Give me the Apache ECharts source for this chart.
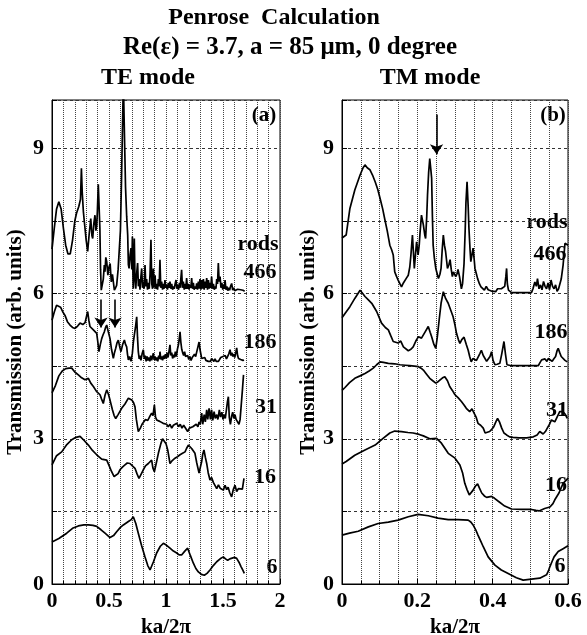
<!DOCTYPE html>
<html>
<head>
<meta charset="utf-8">
<script src="https://cdn.jsdelivr.net/npm/echarts@6/dist/echarts.min.js"></script>
<style>
  html, body { margin: 0; padding: 0; background: #fff; }
  #chart { width: 587px; height: 635px; }
</style>
</head>
<body>
<div id="chart"></div>
<script>
// TE mode curves, [ka/2pi, transmission]
var te466 = [[0,6.92],[0.02,7.35],[0.04,7.75],[0.06,7.9],[0.08,7.75],[0.1,7.35],[0.12,7.0],[0.14,6.82],[0.16,6.82],[0.18,7.1],[0.2,7.5],[0.215,7.66],[0.235,7.8],[0.25,7.95],[0.258,8.59],[0.265,8.1],[0.275,7.7],[0.284,7.48],[0.3,7.1],[0.313,6.87],[0.325,7.2],[0.34,7.55],[0.35,7.2],[0.357,7.14],[0.367,7.45],[0.377,7.62],[0.385,7.3],[0.392,7.4],[0.398,7.7],[0.406,8.26],[0.413,7.8],[0.42,7.35],[0.426,6.5],[0.432,6.07],[0.44,6.04],[0.45,6.3],[0.459,6.59],[0.465,6.45],[0.472,6.75],[0.48,6.66],[0.49,6.38],[0.5,6.55],[0.51,6.62],[0.52,6.24],[0.53,6.4],[0.547,6.07],[0.558,6.12],[0.567,6.17],[0.58,6.5],[0.59,6.9],[0.6,7.3],[0.61,8.38],[0.618,9.4],[0.626,10.4],[0.632,10.4],[0.638,9.0],[0.645,8.2],[0.655,7.6],[0.664,7.21],[0.67,6.6],[0.676,6.52],[0.685,6.8],[0.693,6.94],[0.7,6.5],[0.705,7.18],[0.71,6.4],[0.713,6.1],[0.722,7.14],[0.728,6.3],[0.735,6.1],[0.742,6.4],[0.751,6.63],[0.758,6.15],[0.765,6.3],[0.772,6.08],[0.78,6.35],[0.787,6.52],[0.794,6.12],[0.8,6.25],[0.808,6.1],[0.816,6.59],[0.823,6.15],[0.83,6.3],[0.838,6.08],[0.846,6.22],[0.853,6.1],[0.86,6.4],[0.868,7.11],[0.875,6.2],[0.882,6.1],[0.889,6.52],[0.896,6.12],[0.904,6.38],[0.911,6.1],[0.918,6.2],[0.926,6.08],[0.933,6.3],[0.94,6.15],[0.947,6.7],[0.954,6.12],[0.962,6.25],[0.97,6.08],[0.977,6.2],[0.984,6.1],[0.991,6.28],[0.998,6.12],[1.006,6.18],[1.013,6.08],[1.02,6.22],[1.028,6.12],[1.035,6.25],[1.042,6.1],[1.05,6.2],[1.058,6.08],[1.065,6.15],[1.072,6.1],[1.08,6.2],[1.088,6.28],[1.095,6.1],[1.102,6.18],[1.11,6.08],[1.118,6.22],[1.125,6.12],[1.13,6.3],[1.137,6.49],[1.144,6.12],[1.152,6.25],[1.16,6.08],[1.167,6.2],[1.174,6.1],[1.181,6.32],[1.188,6.1],[1.196,6.2],[1.203,6.08],[1.21,6.18],[1.218,6.12],[1.225,6.32],[1.232,6.1],[1.24,6.22],[1.247,6.08],[1.254,6.15],[1.262,6.1],[1.269,6.21],[1.276,6.08],[1.284,6.25],[1.291,6.1],[1.298,6.3],[1.306,6.08],[1.313,6.28],[1.32,6.1],[1.328,6.3],[1.335,6.08],[1.342,6.25],[1.35,6.12],[1.357,6.32],[1.364,6.08],[1.372,6.28],[1.38,6.1],[1.386,6.22],[1.393,6.12],[1.4,6.35],[1.408,6.1],[1.416,6.2],[1.424,6.08],[1.43,6.15],[1.438,6.1],[1.445,6.3],[1.452,6.2],[1.459,6.63],[1.466,6.25],[1.474,6.35],[1.482,6.12],[1.49,6.22],[1.498,6.08],[1.505,6.18],[1.512,6.1],[1.518,6.28],[1.526,6.08],[1.534,6.15],[1.542,6.06],[1.55,6.12],[1.558,6.07],[1.566,6.15],[1.576,6.21],[1.585,6.07],[1.594,6.12],[1.603,6.06],[1.612,6.1],[1.62,6.06],[1.628,6.09],[1.635,6.12],[1.645,6.05],[1.655,6.08],[1.665,6.05],[1.675,6.07],[1.69,6.05]]
var te186 = [[0,5.45],[0.02,5.62],[0.04,5.76],[0.056,5.79],[0.075,5.72],[0.095,5.62],[0.114,5.55],[0.135,5.42],[0.158,5.35],[0.18,5.3],[0.202,5.28],[0.225,5.33],[0.246,5.39],[0.27,5.36],[0.29,5.4],[0.3,5.5],[0.313,5.63],[0.323,5.45],[0.333,5.32],[0.348,5.28],[0.363,5.25],[0.378,5.22],[0.392,5.18],[0.402,5.0],[0.412,4.8],[0.424,4.95],[0.436,5.07],[0.448,5.15],[0.459,5.21],[0.47,5.3],[0.48,5.35],[0.495,5.2],[0.509,5.07],[0.522,4.85],[0.538,4.66],[0.548,4.78],[0.559,4.87],[0.57,4.98],[0.582,5.04],[0.594,4.9],[0.605,4.8],[0.62,4.95],[0.635,5.04],[0.645,4.95],[0.655,4.9],[0.662,4.75],[0.67,4.63],[0.68,4.7],[0.693,4.6],[0.705,4.77],[0.714,5.0],[0.722,5.14],[0.732,5.3],[0.743,5.52],[0.75,5.1],[0.757,4.8],[0.765,4.65],[0.772,4.72],[0.78,4.62],[0.79,4.75],[0.801,4.84],[0.81,4.65],[0.818,4.72],[0.826,4.6],[0.834,4.7],[0.842,4.62],[0.85,4.68],[0.858,4.6],[0.866,4.72],[0.874,4.62],[0.882,4.7],[0.889,4.77],[0.896,4.63],[0.904,4.7],[0.912,4.62],[0.92,4.68],[0.928,4.6],[0.936,4.72],[0.944,4.65],[0.947,4.8],[0.955,4.64],[0.963,4.7],[0.97,4.62],[0.978,4.72],[0.986,4.65],[0.995,4.75],[1.003,4.66],[1.01,4.78],[1.018,4.68],[1.026,4.8],[1.035,4.94],[1.042,4.72],[1.05,4.78],[1.058,4.66],[1.066,4.74],[1.074,4.68],[1.082,4.8],[1.09,4.7],[1.1,4.85],[1.11,4.95],[1.118,5.1],[1.123,5.21],[1.13,5.0],[1.138,4.85],[1.146,4.78],[1.155,4.72],[1.163,4.8],[1.172,4.7],[1.181,4.66],[1.19,4.72],[1.2,4.64],[1.21,4.7],[1.22,4.62],[1.23,4.68],[1.24,4.66],[1.25,4.75],[1.26,4.7],[1.27,4.8],[1.28,4.9],[1.29,5.0],[1.298,4.85],[1.306,4.75],[1.313,4.66],[1.322,4.7],[1.33,4.64],[1.34,4.68],[1.35,4.62],[1.36,4.6],[1.371,4.6],[1.38,4.64],[1.39,4.6],[1.4,4.66],[1.41,4.62],[1.42,4.6],[1.43,4.65],[1.44,4.6],[1.45,4.63],[1.46,4.6],[1.47,4.62],[1.48,4.68],[1.49,4.64],[1.5,4.7],[1.51,4.66],[1.52,4.72],[1.53,4.65],[1.54,4.7],[1.55,4.75],[1.562,4.84],[1.57,4.72],[1.578,4.78],[1.586,4.7],[1.595,4.75],[1.603,4.68],[1.612,4.78],[1.62,4.88],[1.628,4.72],[1.636,4.66],[1.645,4.7],[1.655,4.64],[1.665,4.68],[1.675,4.62],[1.684,4.63]]
var te31 = [[0,3.95],[0.03,4.1],[0.06,4.3],[0.09,4.4],[0.12,4.45],[0.15,4.46],[0.173,4.46],[0.2,4.38],[0.231,4.32],[0.26,4.26],[0.289,4.22],[0.305,4.26],[0.319,4.25],[0.34,4.15],[0.363,4.08],[0.39,3.98],[0.421,3.91],[0.435,3.82],[0.45,3.73],[0.465,3.9],[0.48,4.01],[0.495,3.92],[0.509,3.8],[0.53,3.6],[0.545,3.48],[0.559,3.42],[0.58,3.5],[0.611,3.63],[0.64,3.72],[0.67,3.84],[0.7,3.8],[0.715,3.75],[0.728,3.66],[0.74,3.4],[0.757,3.15],[0.775,3.22],[0.79,3.3],[0.801,3.32],[0.82,3.4],[0.84,3.38],[0.855,3.45],[0.874,3.53],[0.886,3.48],[0.898,3.7],[0.908,3.45],[0.918,3.39],[0.93,3.42],[0.945,3.36],[0.96,3.39],[0.975,3.32],[0.99,3.36],[1.005,3.3],[1.02,3.25],[1.035,3.3],[1.05,3.22],[1.065,3.28],[1.08,3.25],[1.095,3.32],[1.11,3.25],[1.125,3.3],[1.14,3.22],[1.155,3.28],[1.17,3.25],[1.19,3.15],[1.205,3.22],[1.22,3.2],[1.235,3.25],[1.25,3.22],[1.265,3.3],[1.28,3.25],[1.29,3.35],[1.3,3.3],[1.313,3.53],[1.322,3.3],[1.335,3.5],[1.345,3.35],[1.357,3.6],[1.366,3.4],[1.378,3.63],[1.39,3.4],[1.4,3.6],[1.41,3.38],[1.422,3.56],[1.432,3.42],[1.445,3.5],[1.455,3.4],[1.468,3.6],[1.478,3.45],[1.49,3.55],[1.5,3.4],[1.51,3.5],[1.52,3.42],[1.53,3.6],[1.538,3.75],[1.547,3.87],[1.555,3.45],[1.565,3.3],[1.575,3.46],[1.585,3.55],[1.595,3.42],[1.605,3.5],[1.615,3.4],[1.625,3.4],[1.64,3.3],[1.65,3.4],[1.66,3.7],[1.67,4.0],[1.68,4.32]]
var te16 = [[0,2.46],[0.04,2.65],[0.085,2.73],[0.13,2.88],[0.173,2.98],[0.21,3.03],[0.246,3.05],[0.28,2.97],[0.319,2.87],[0.355,2.76],[0.392,2.67],[0.436,2.58],[0.48,2.56],[0.5,2.45],[0.523,2.32],[0.545,2.22],[0.561,2.18],[0.58,2.28],[0.596,2.36],[0.62,2.42],[0.64,2.46],[0.66,2.5],[0.684,2.49],[0.705,2.44],[0.728,2.39],[0.745,2.28],[0.763,2.18],[0.78,2.26],[0.801,2.36],[0.82,2.44],[0.845,2.49],[0.874,2.56],[0.885,2.4],[0.898,2.32],[0.915,2.5],[0.933,2.7],[0.955,2.9],[0.97,3.0],[0.983,3.04],[1.0,2.9],[1.015,2.77],[1.035,2.49],[1.055,2.55],[1.079,2.6],[1.1,2.63],[1.123,2.67],[1.145,2.7],[1.167,2.73],[1.18,2.8],[1.196,2.87],[1.21,2.83],[1.225,2.8],[1.24,2.76],[1.254,2.7],[1.27,2.5],[1.29,2.29],[1.3,2.4],[1.313,2.53],[1.322,2.68],[1.333,2.77],[1.345,2.62],[1.357,2.49],[1.37,2.3],[1.386,2.15],[1.4,2.2],[1.415,2.1],[1.43,2.08],[1.445,1.97],[1.46,2.05],[1.475,1.98],[1.49,2.02],[1.503,1.94],[1.518,2.04],[1.532,1.95],[1.545,2.0],[1.56,1.88],[1.576,1.8],[1.59,1.95],[1.605,2.04],[1.62,1.91],[1.635,1.97],[1.65,2.01],[1.67,1.96],[1.684,2.18]]
var te6 = [[0,0.87],[0.06,0.94],[0.129,1.05],[0.18,1.15],[0.231,1.2],[0.28,1.22],[0.319,1.22],[0.36,1.21],[0.392,1.19],[0.43,1.12],[0.465,1.05],[0.509,0.96],[0.54,1.0],[0.567,1.08],[0.6,1.17],[0.626,1.22],[0.67,1.29],[0.695,1.33],[0.713,1.39],[0.735,1.25],[0.757,1.05],[0.785,0.8],[0.816,0.56],[0.84,0.38],[0.86,0.29],[0.89,0.46],[0.918,0.64],[0.95,0.78],[0.977,0.84],[1.005,0.8],[1.035,0.74],[1.065,0.68],[1.094,0.64],[1.115,0.6],[1.137,0.6],[1.165,0.68],[1.19,0.74],[1.215,0.58],[1.24,0.43],[1.262,0.32],[1.284,0.25],[1.31,0.2],[1.336,0.18],[1.36,0.22],[1.386,0.29],[1.415,0.38],[1.445,0.46],[1.475,0.52],[1.503,0.56],[1.522,0.52],[1.541,0.49],[1.56,0.52],[1.576,0.53],[1.6,0.55],[1.62,0.53],[1.64,0.45],[1.658,0.36],[1.675,0.28],[1.687,0.22]]

// TM mode curves
var tm466 = [[0,7.15],[0.011,7.21],[0.021,7.76],[0.034,8.14],[0.048,8.45],[0.056,8.6],[0.061,8.66],[0.067,8.6],[0.074,8.56],[0.081,8.45],[0.088,8.31],[0.095,8.15],[0.101,7.97],[0.108,7.75],[0.114,7.52],[0.12,7.3],[0.127,7.0],[0.132,6.9],[0.136,6.8],[0.14,6.45],[0.145,6.35],[0.149,6.28],[0.154,6.2],[0.158,6.14],[0.163,6.22],[0.167,6.24],[0.171,6.32],[0.176,6.38],[0.18,6.55],[0.183,6.8],[0.187,7.21],[0.19,6.8],[0.192,6.52],[0.195,6.8],[0.198,7.07],[0.202,6.8],[0.205,7.0],[0.207,7.24],[0.211,7.62],[0.216,7.42],[0.22,7.2],[0.222,7.14],[0.225,7.6],[0.227,8.03],[0.23,8.5],[0.233,8.79],[0.236,8.55],[0.238,8.38],[0.24,7.6],[0.242,7.0],[0.245,6.75],[0.249,6.52],[0.253,6.4],[0.256,6.31],[0.26,6.4],[0.263,6.52],[0.266,6.9],[0.269,7.21],[0.272,7.0],[0.275,6.87],[0.28,6.52],[0.284,6.6],[0.287,6.7],[0.29,6.5],[0.293,6.35],[0.296,6.45],[0.298,6.49],[0.302,6.35],[0.305,6.4],[0.308,6.5],[0.312,6.35],[0.317,6.1],[0.32,6.2],[0.324,6.62],[0.327,7.3],[0.329,7.87],[0.332,8.31],[0.335,7.8],[0.337,7.35],[0.34,6.9],[0.342,6.66],[0.345,6.8],[0.348,6.94],[0.351,6.7],[0.353,6.52],[0.357,6.4],[0.36,6.31],[0.365,6.2],[0.369,6.14],[0.373,6.1],[0.378,6.07],[0.383,6.15],[0.388,6.08],[0.393,6.12],[0.398,6.05],[0.403,6.08],[0.408,6.04],[0.413,6.1],[0.418,6.06],[0.423,6.1],[0.428,6.08],[0.432,6.15],[0.435,6.35],[0.437,6.52],[0.439,6.2],[0.442,6.07],[0.446,6.04],[0.45,6.02],[0.503,6.02],[0.507,6.1],[0.512,6.24],[0.516,6.15],[0.519,6.31],[0.523,6.1],[0.527,6.18],[0.531,6.08],[0.535,6.25],[0.539,6.15],[0.543,6.1],[0.547,6.22],[0.551,6.08],[0.555,6.28],[0.559,6.15],[0.563,6.1],[0.567,6.18],[0.571,6.05],[0.575,6.1],[0.578,6.12],[0.582,6.3],[0.587,6.59],[0.592,7.04],[0.596,7.07],[0.6,7.0]]
var tm186 = [[0,5.5],[0.008,5.59],[0.021,5.73],[0.034,5.9],[0.048,6.07],[0.055,6.0],[0.061,5.94],[0.07,5.87],[0.079,5.8],[0.092,5.63],[0.105,5.39],[0.115,5.3],[0.123,5.25],[0.13,5.12],[0.136,5.01],[0.149,4.98],[0.156,5.02],[0.163,4.9],[0.176,4.82],[0.183,4.85],[0.189,4.9],[0.196,5.02],[0.203,5.11],[0.211,5.08],[0.22,5.2],[0.229,5.32],[0.234,5.2],[0.238,5.11],[0.244,4.95],[0.249,4.87],[0.253,5.1],[0.258,5.46],[0.263,5.8],[0.269,6.04],[0.275,5.9],[0.282,5.8],[0.289,5.65],[0.295,5.52],[0.3,5.35],[0.304,5.18],[0.309,5.05],[0.313,4.97],[0.318,5.05],[0.324,5.1],[0.33,4.95],[0.335,4.83],[0.339,4.7],[0.343,4.59],[0.348,4.66],[0.352,4.7],[0.357,4.62],[0.361,4.66],[0.366,4.76],[0.37,4.83],[0.375,4.72],[0.379,4.7],[0.384,4.6],[0.388,4.56],[0.393,4.7],[0.397,4.8],[0.401,4.62],[0.406,4.53],[0.412,4.54],[0.419,4.56],[0.424,4.75],[0.43,5.01],[0.434,4.75],[0.438,4.53],[0.45,4.51],[0.521,4.51],[0.526,4.58],[0.53,4.63],[0.535,4.6],[0.539,4.65],[0.544,4.6],[0.548,4.66],[0.553,4.62],[0.558,4.6],[0.562,4.65],[0.567,4.7],[0.571,4.82],[0.574,4.87],[0.578,4.78],[0.582,4.7],[0.587,4.66],[0.592,4.62],[0.598,4.59]]
var tm31 = [[0,4.0],[0.008,4.06],[0.02,4.16],[0.034,4.25],[0.048,4.3],[0.061,4.35],[0.072,4.4],[0.083,4.46],[0.092,4.53],[0.101,4.59],[0.11,4.58],[0.123,4.56],[0.14,4.55],[0.154,4.53],[0.168,4.52],[0.18,4.51],[0.192,4.5],[0.203,4.49],[0.21,4.46],[0.216,4.42],[0.224,4.34],[0.233,4.25],[0.241,4.2],[0.249,4.15],[0.255,4.18],[0.26,4.21],[0.267,4.26],[0.273,4.28],[0.28,4.2],[0.286,4.08],[0.293,4.0],[0.3,3.91],[0.308,3.85],[0.317,3.77],[0.324,3.7],[0.33,3.63],[0.339,3.56],[0.345,3.62],[0.35,3.66],[0.356,3.45],[0.361,3.32],[0.368,3.28],[0.375,3.22],[0.38,3.12],[0.384,3.08],[0.392,3.15],[0.398,3.2],[0.403,3.25],[0.409,3.36],[0.413,3.42],[0.418,3.35],[0.424,3.22],[0.43,3.12],[0.437,3.08],[0.445,3.04],[0.454,3.03],[0.47,3.02],[0.49,3.02],[0.508,3.04],[0.518,3.08],[0.525,3.15],[0.53,3.12],[0.534,3.1],[0.54,3.15],[0.545,3.22],[0.551,3.3],[0.556,3.39],[0.56,3.37],[0.565,3.35],[0.571,3.45],[0.578,3.56],[0.583,3.6],[0.587,3.56],[0.593,3.5],[0.598,3.42]]
var tm16 = [[0,2.48],[0.011,2.53],[0.034,2.66],[0.061,2.77],[0.088,2.87],[0.109,3.01],[0.127,3.12],[0.14,3.16],[0.158,3.15],[0.175,3.13],[0.189,3.12],[0.205,3.09],[0.216,3.06],[0.233,3.0],[0.251,3.01],[0.264,2.91],[0.282,2.7],[0.3,2.6],[0.313,2.46],[0.32,2.3],[0.326,2.08],[0.332,1.95],[0.338,1.84],[0.343,1.88],[0.348,1.94],[0.354,2.02],[0.36,2.07],[0.365,1.98],[0.371,1.88],[0.378,1.82],[0.384,1.79],[0.397,1.81],[0.405,1.77],[0.415,1.71],[0.432,1.61],[0.45,1.55],[0.477,1.54],[0.503,1.54],[0.515,1.52],[0.523,1.51],[0.538,1.56],[0.552,1.59],[0.56,1.66],[0.565,1.74],[0.576,1.88],[0.587,2.08],[0.596,2.15],[0.6,2.19]]
var tm6 = [[0,1.01],[0.02,1.05],[0.043,1.09],[0.07,1.18],[0.096,1.25],[0.123,1.28],[0.149,1.32],[0.176,1.39],[0.202,1.44],[0.229,1.41],[0.255,1.36],[0.282,1.33],[0.308,1.33],[0.335,1.32],[0.342,1.28],[0.348,1.22],[0.355,1.12],[0.361,1.01],[0.368,0.89],[0.375,0.77],[0.388,0.56],[0.406,0.39],[0.423,0.29],[0.445,0.2],[0.463,0.13],[0.481,0.08],[0.503,0.1],[0.525,0.12],[0.543,0.19],[0.548,0.27],[0.552,0.36],[0.558,0.47],[0.563,0.56],[0.574,0.67],[0.587,0.73],[0.6,0.79]]

// arrows: x position, start and tip heights
var teArrowX = [0.43, 0.553]
var teArrowY = [5.88, 5.3]
var tmArrowX = [0.251]
var tmArrowY = [9.7, 8.88]

var rodLabels = ['466', '186', '31', '16', '6']

var chart = echarts.init(document.getElementById('chart'))
var FONT = 'Liberation Serif'

function boldText(size) {
  return { fontFamily: FONT, fontWeight: 'bold', fontSize: size, color: '#000' }
}

function xAxisOf(grid, max, step, minorN) {
  return {
    gridIndex: grid,
    type: 'value',
    min: 0,
    max: max,
    interval: step,
    name: 'ka/2π',
    nameLocation: 'middle',
    nameGap: 24,
    nameTextStyle: boldText(21),
    axisLine: { show: true, lineStyle: { color: '#000', width: 1 } },
    axisTick: { show: true, inside: true, length: 5, lineStyle: { color: '#000' } },
    minorTick: { show: true, splitNumber: minorN, length: 3, lineStyle: { color: '#000' } },
    axisLabel: Object.assign({ margin: 6 }, boldText(22)),
    splitLine: { show: true, lineStyle: { color: '#444', type: 'dotted', width: 1 } },
    minorSplitLine: { show: true, lineStyle: { color: '#444', type: 'dotted', width: 1 } }
  }
}

function yAxisOf(grid, gap) {
  return {
    gridIndex: grid,
    type: 'value',
    min: 0,
    max: 10,
    interval: 1.5,
    name: 'Transmission (arb. units)',
    nameLocation: 'middle',
    nameGap: gap,
    nameTextStyle: boldText(21),
    axisLine: { show: true, lineStyle: { color: '#000', width: 1 } },
    axisTick: { show: true, inside: true, length: 5, lineStyle: { color: '#000' } },
    axisLabel: Object.assign({
      margin: 8,
      formatter: function (v) {
        return (Math.abs(v % 3) < 1e-6 && v < 9.5) ? String(v) : ''
      }
    }, boldText(22)),
    splitLine: { show: true, lineStyle: { color: '#333', type: [3, 3], width: 1 } }
  }
}

function curve(data, grid) {
  return {
    type: 'line',
    xAxisIndex: grid,
    yAxisIndex: grid,
    data: data,
    showSymbol: false,
    symbol: 'none',
    clip: true,
    lineStyle: { color: '#000', width: 1.7 },
    silent: true
  }
}

function arrowLines(xs, ys) {
  return xs.map(function (x) {
    return [{ coord: [x, ys[0]] }, { coord: [x, ys[1]] }]
  })
}

var teSeries = [te466, te186, te31, te16, te6].map(function (d) { return curve(d, 0) })
var tmSeries = [tm466, tm186, tm31, tm16, tm6].map(function (d) { return curve(d, 1) })

var arrowStyle = {
  silent: true,
  symbol: ['none', 'arrow'],
  symbolSize: 10,
  label: { show: false },
  lineStyle: { color: '#000', width: 1.6, type: 'solid' },
  itemStyle: { color: '#000' }
}
teSeries[0].markLine = Object.assign({ data: arrowLines(teArrowX, teArrowY) }, arrowStyle)
tmSeries[0].markLine = Object.assign({ data: arrowLines(tmArrowX, tmArrowY) }, arrowStyle)

function label(text, x, y, size) {
  return {
    type: 'text',
    x: x,
    y: y,
    style: {
      text: text,
      font: 'bold ' + size + 'px "' + FONT + '"',
      fill: '#000',
      align: 'center',
      verticalAlign: 'middle'
    }
  }
}

var teLabelY = [272, 342, 407, 477, 567]
var tmLabelY = [254, 332, 410, 485, 566]
var teLabelX = [260, 260, 266, 265, 272]
var tmLabelX = [550, 551, 557, 556, 560]

var graphics = [
  label('Penrose  Calculation', 274, 18, 24),
  label('Re(ε) = 3.7, a = 85 μm, 0 degree', 290, 48, 25),
  label('TE mode', 148, 78, 24),
  label('TM mode', 430, 78, 24),
  label('(a)', 264, 116, 21),
  label('(b)', 553, 116, 21),
  label('rods', 258, 244, 22),
  label('rods', 547, 222, 22)
]
rodLabels.forEach(function (t, i) {
  graphics.push(label(t, teLabelX[i], teLabelY[i], 22))
  graphics.push(label(t, tmLabelX[i], tmLabelY[i], 22))
})

chart.setOption({
  animation: false,
  backgroundColor: '#fff',
  grid: [
    { left: 52, top: 100, width: 228, height: 484, show: true, borderColor: '#000', borderWidth: 1, outerBoundsMode: 'none' },
    { left: 342, top: 100, width: 226, height: 484, show: true, borderColor: '#000', borderWidth: 1, outerBoundsMode: 'none' }
  ],
  xAxis: [xAxisOf(0, 2, 0.5, 5), xAxisOf(1, 0.6, 0.2, 4)],
  yAxis: [yAxisOf(0, 26), yAxisOf(1, 15)],
  series: teSeries.concat(tmSeries),
  graphic: graphics
})
</script>
</body>
</html>
